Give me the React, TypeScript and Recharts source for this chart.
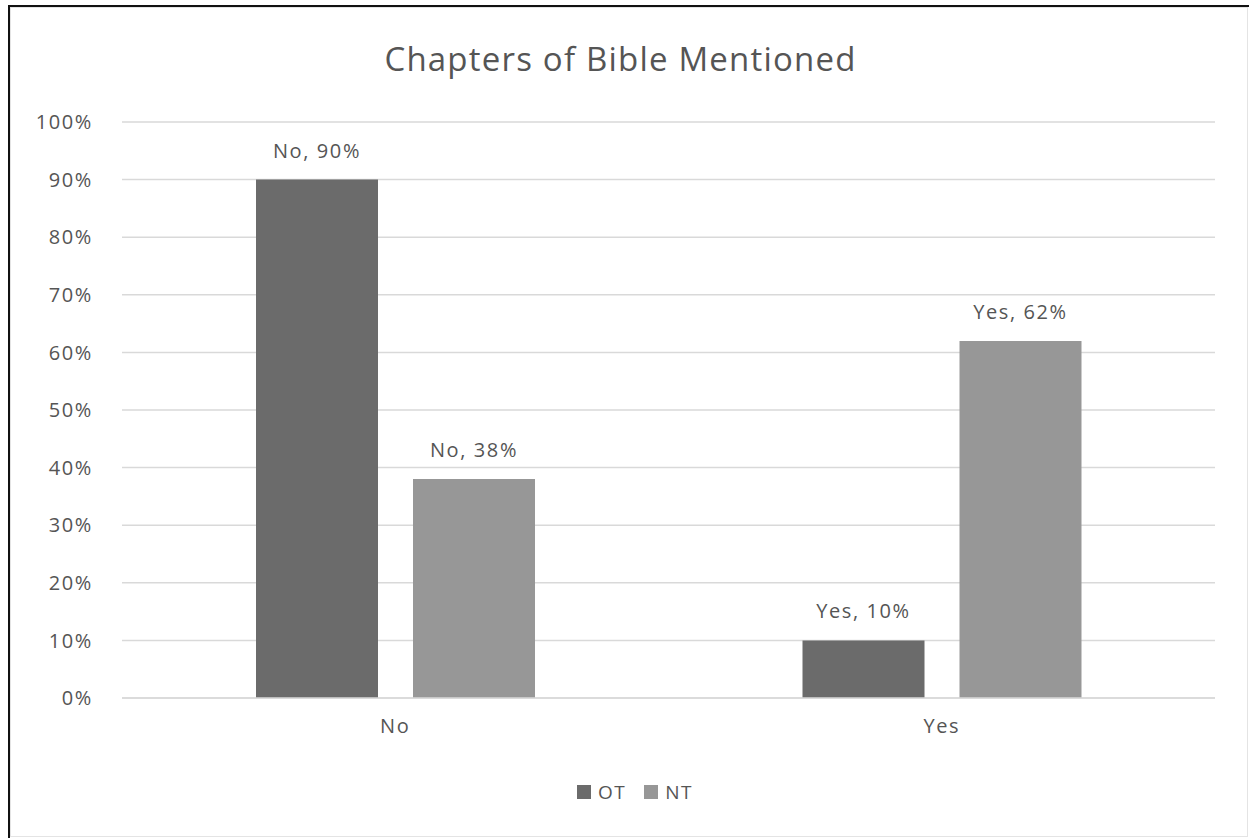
import { BarChart, Bar, XAxis, YAxis, CartesianGrid, LabelList } from "recharts";

const categories = ["No", "Yes"];
const otValues = [90, 10];
const ntValues = [38, 62];
const yTicks = [0, 10, 20, 30, 40, 50, 60, 70, 80, 90, 100];
const seriesNames = ["OT", "NT"];
const seriesColors = ["#6b6b6b", "#979797"];

const data = categories.map((cat, i) => ({
  cat,
  ot: otValues[i],
  nt: ntValues[i],
  otLabel: `${cat}, ${otValues[i]}%`,
  ntLabel: `${cat}, ${ntValues[i]}%`,
}));

const FONT = "'Open Sans', 'Noto Sans', sans-serif";
const TEXT = "#555555";
const GRID = "#d9d9d9";

const tickStyle = { fill: TEXT, fontSize: 20, fontFamily: FONT, letterSpacing: 1.6, fontWeight: 500 };

export default function App() {
  return (
    <div style={{ position: "absolute", left: 0, top: 0, width: 1249, height: 838, background: "#fff" }}>
      {/* frame: dark top/left edge, light inner border */}
      <div
        style={{
          position: "absolute",
          left: 8,
          top: 5,
          width: 1241,
          height: 833,
          boxSizing: "border-box",
          borderTop: "2px solid #111",
          borderLeft: "2px solid #111",
        }}
      />
      <div
        style={{
          position: "absolute",
          left: 10,
          top: 7,
          width: 1238,
          height: 830,
          boxSizing: "border-box",
          border: "1.5px solid #e4e4e4",
        }}
      />

      <div
        style={{
          position: "absolute",
          left: 0,
          top: 36,
          width: 1241,
          textAlign: "center",
          fontFamily: FONT,
          fontSize: 33,
          letterSpacing: 1.2,
          fontWeight: 500,
          color: TEXT,
        }}
      >
        Chapters of Bible Mentioned
      </div>

      <div style={{ position: "absolute", left: 0, top: 0 }}>
        <BarChart
          width={1249}
          height={838}
          data={data}
          margin={{ top: 122, right: 34, bottom: 100, left: 0 }}
          barGap={35}
          barSize={122}
        >
          <CartesianGrid vertical={false} stroke={GRID} strokeWidth={1.5} />
          <XAxis
            dataKey="cat"
            height={40}
            axisLine={{ stroke: GRID, strokeWidth: 1.5 }}
            tickLine={false}
            tickSize={0}
            tickMargin={21}
            tick={tickStyle}
          />
          <YAxis
            width={122}
            domain={[0, 100]}
            ticks={yTicks}
            tickFormatter={(v: number) => `${v}%`}
            axisLine={false}
            tickLine={false}
            tickSize={0}
            tickMargin={29}
            tick={tickStyle}
          />
          <Bar dataKey="ot" name={seriesNames[0]} fill={seriesColors[0]} isAnimationActive={false}>
            <LabelList dataKey="otLabel" position="top" offset={22} {...tickStyle} />
          </Bar>
          <Bar dataKey="nt" name={seriesNames[1]} fill={seriesColors[1]} isAnimationActive={false}>
            <LabelList dataKey="ntLabel" position="top" offset={22} {...tickStyle} />
          </Bar>
        </BarChart>
      </div>

      {/* legend */}
      <div
        style={{
          position: "absolute",
          left: 0,
          top: 779,
          width: 1270,
          display: "flex",
          justifyContent: "center",
          alignItems: "center",
          fontFamily: FONT,
          fontSize: 19,
          letterSpacing: 1.5,
          fontWeight: 500,
          color: TEXT,
        }}
      >
        {seriesNames.map((name, i) => (
          <div key={name} style={{ display: "flex", alignItems: "center", marginRight: i === 0 ? 18 : 0 }}>
            <span style={{ display: "inline-block", width: 14, height: 14, background: seriesColors[i], marginRight: 7 }} />
            <span>{name}</span>
          </div>
        ))}
      </div>
    </div>
  );
}
